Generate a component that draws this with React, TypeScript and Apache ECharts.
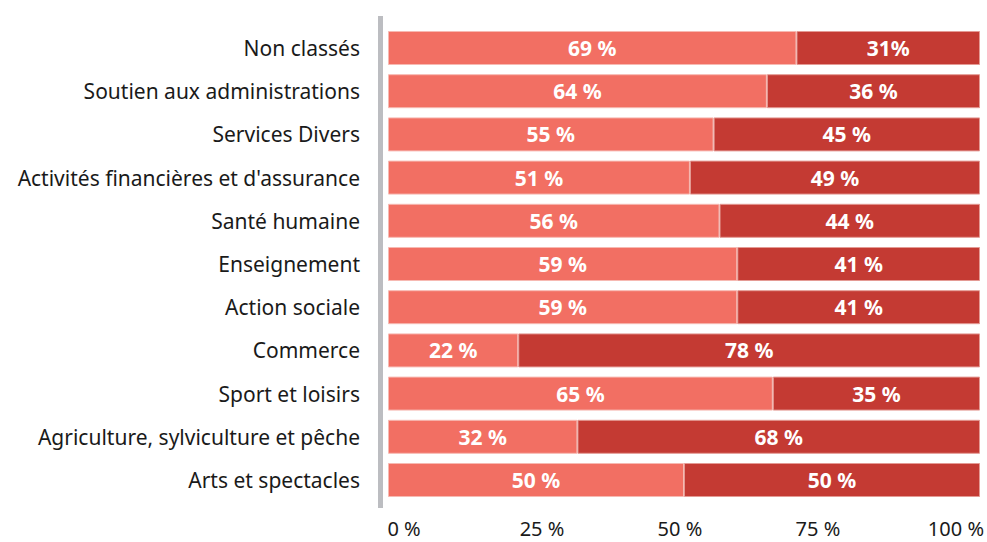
import React, { useEffect, useRef } from "react";
import * as echarts from "echarts";

const categories = [
  "Non classés",
  "Soutien aux administrations",
  "Services Divers",
  "Activités financières et d'assurance",
  "Santé humaine",
  "Enseignement",
  "Action sociale",
  "Commerce",
  "Sport et loisirs",
  "Agriculture, sylviculture et pêche",
  "Arts et spectacles",
];
const lightValues = [69, 64, 55, 51, 56, 59, 59, 22, 65, 32, 50];
const darkValues = [31, 36, 45, 49, 44, 41, 41, 78, 35, 68, 50];
const lightLabels = ["69 %", "64 %", "55 %", "51 %", "56 %", "59 %", "59 %", "22 %", "65 %", "32 %", "50 %"];
const darkLabels = ["31%", "36 %", "45 %", "49 %", "44 %", "41 %", "41 %", "78 %", "35 %", "68 %", "50 %"];
const tickValues = [0, 25, 50, 75, 100];

const FONT = "Noto Sans";

export default function App() {
  const ref = useRef<HTMLDivElement>(null);
  useEffect(() => {
    if (!ref.current) return;
    const chart = echarts.init(ref.current, undefined, { renderer: "svg" });
    const barLabel = (labels: string[]) => ({
      show: true,
      position: "inside",
      color: "#ffffff",
      fontFamily: FONT,
      fontWeight: "bold",
      fontSize: 21,
      formatter: (p: any) => labels[p.dataIndex],
    });
    chart.setOption({
      animation: false,
      backgroundColor: "#ffffff",
      grid: [
        { left: 388, right: 7, top: 26.4, bottom: 40.4, containLabel: false },
        { left: 404, right: 30, top: 26.4, bottom: 40.4, containLabel: false },
      ],
      xAxis: [
        { type: "value", gridIndex: 0, min: 0, max: 100, show: false },
        {
          type: "value",
          gridIndex: 1,
          min: 0,
          max: 100,
          interval: 25,
          axisLine: { show: false },
          axisTick: { show: false },
          splitLine: { show: false },
          axisLabel: {
            show: true,
            margin: 17,
            color: "#1a1a1a",
            fontFamily: FONT,
            fontSize: 20,
            customValues: tickValues,
            formatter: (v: number) => `${v} %`,
          },
        },
      ],
      yAxis: [
        {
          type: "category",
          gridIndex: 0,
          data: categories,
          inverse: true,
          axisLine: { show: false },
          axisTick: { show: false },
          axisLabel: {
            margin: 28,
            color: "#1a1a1a",
            fontFamily: FONT,
            fontSize: 21,
          },
        },
        { type: "category", gridIndex: 1, data: categories, inverse: true, show: false },
      ],
      graphic: [
        {
          type: "rect",
          shape: { x: 378, y: 16, width: 5, height: 492 },
          style: { fill: "#bcbdc1" },
        },
      ],
      series: [
        {
          type: "bar",
          stack: "total",
          xAxisIndex: 0,
          yAxisIndex: 0,
          data: lightValues,
          barWidth: 34,
          itemStyle: { color: "#f26f63", borderColor: "#f7b9b2", borderWidth: 1 },
          label: barLabel(lightLabels),
        },
        {
          type: "bar",
          stack: "total",
          xAxisIndex: 0,
          yAxisIndex: 0,
          data: darkValues,
          barWidth: 34,
          itemStyle: { color: "#c43a33", borderColor: "#e49a94", borderWidth: 1 },
          label: barLabel(darkLabels),
        },
        {
          type: "bar",
          xAxisIndex: 1,
          yAxisIndex: 1,
          data: [],
        },
      ],
    });
    return () => chart.dispose();
  }, []);
  return <div ref={ref} style={{ width: 987, height: 542, position: "absolute", left: 0, top: 0 }} />;
}
